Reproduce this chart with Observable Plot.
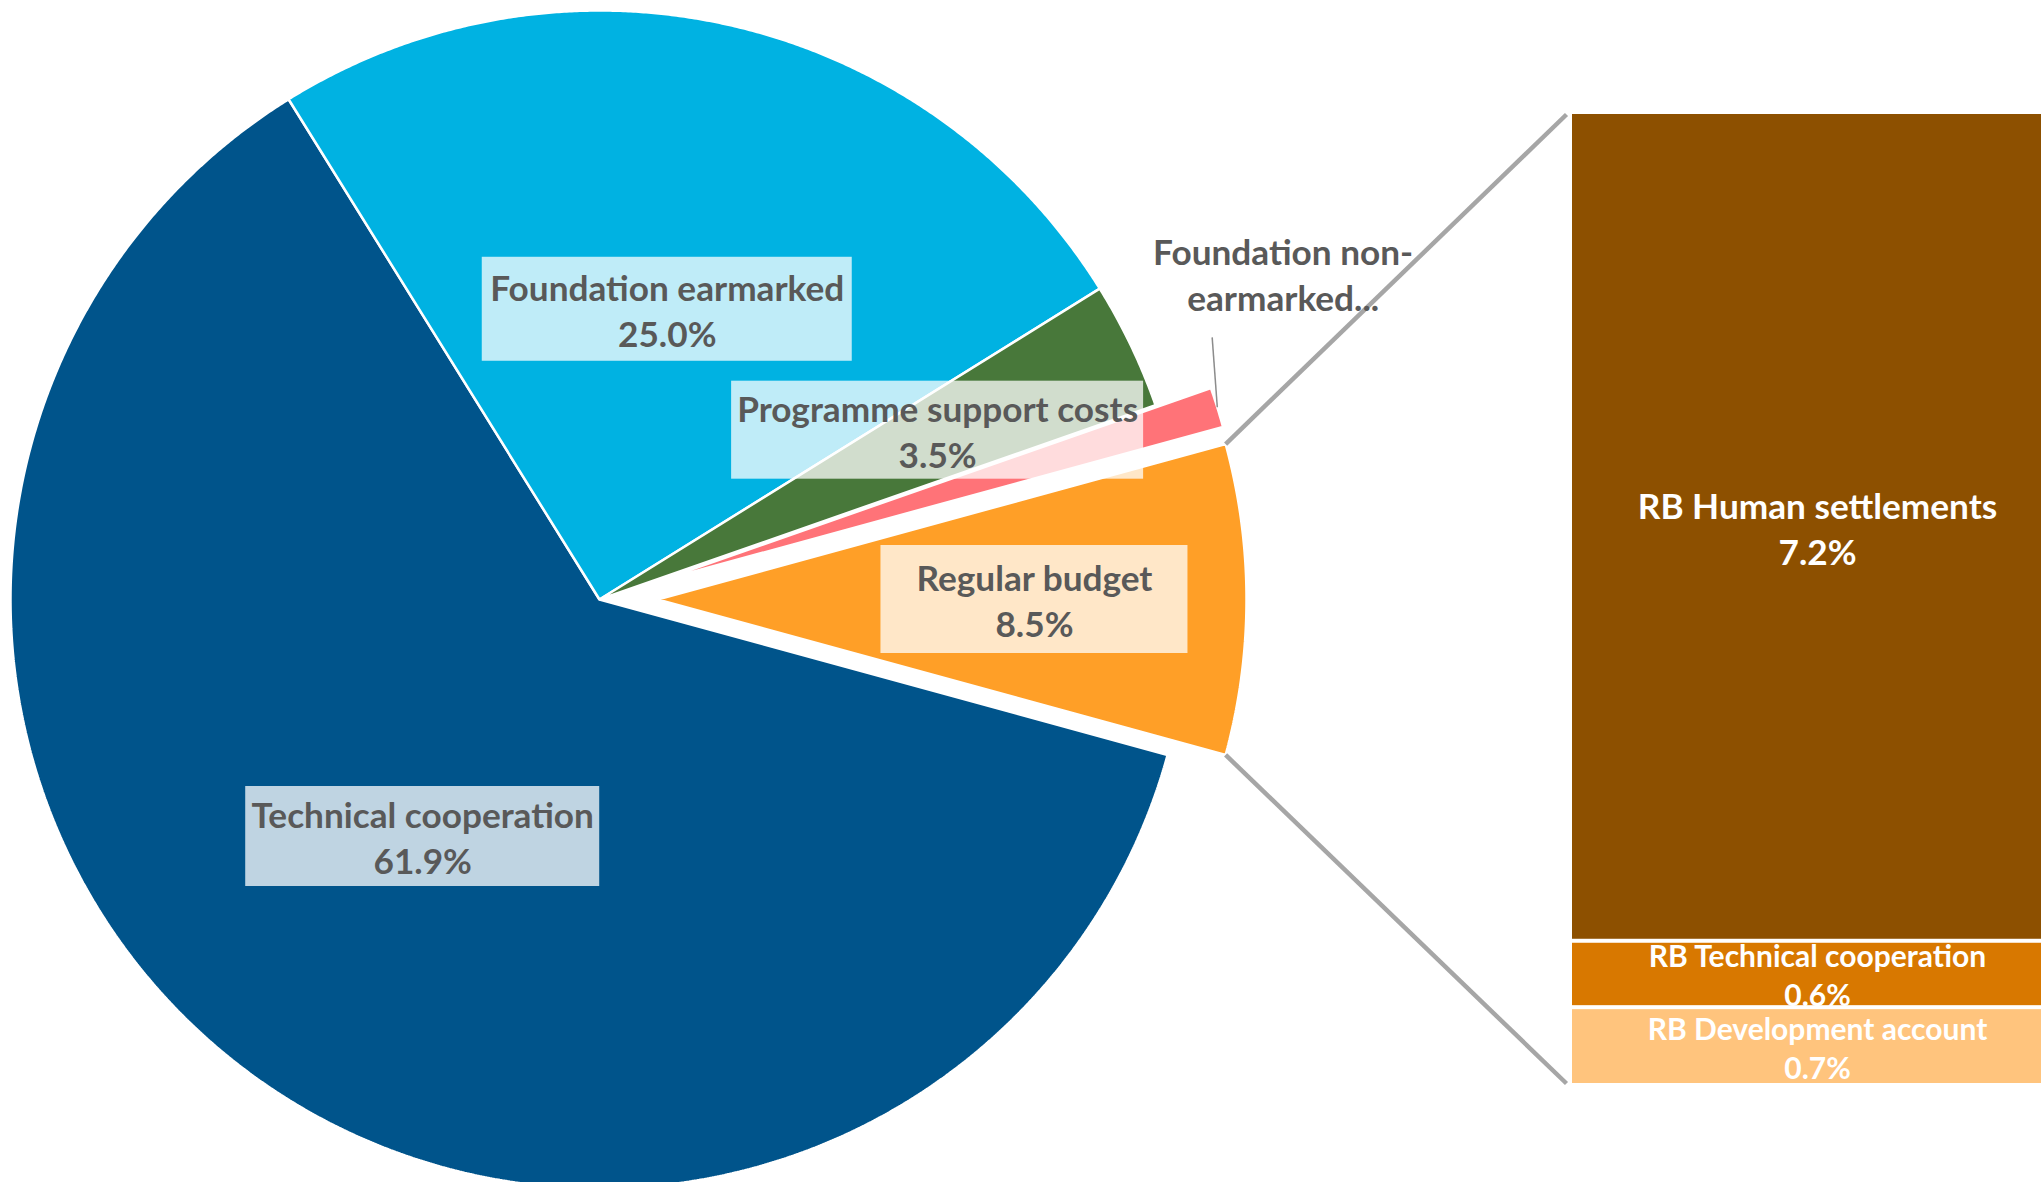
<!DOCTYPE html>
<html>
<head>
<meta charset="utf-8">
<script src="https://cdn.jsdelivr.net/npm/d3@7"></script>
<script src="https://cdn.jsdelivr.net/npm/@observablehq/plot@0.6"></script>
<style>
  html, body { margin: 0; padding: 0; background: #ffffff; overflow: hidden; }
  #chart svg { display: block; }
</style>
</head>
<body>
<div id="chart"></div>
<script>
// ---------------- DATA ----------------
const pieCategories = ["Technical cooperation", "Foundation earmarked", "Programme support costs", "Foundation non-earmarked", "Regular budget"];
const pieValues = [61.9, 25.0, 3.5, 1.1, 8.5];
const pieLabels = ["Technical cooperation", "Foundation earmarked", "Programme support costs", "Foundation non-\nearmarked...", "Regular budget"];
const pieShowValue = [true, true, true, false, true];

const barCategories = ["RB Human settlements", "RB Technical cooperation", "RB Development account"];
const barValues = [7.24, 0.58, 0.68];

// ---------------- STYLE ----------------
const pieColors = ["#00548B", "#00B2E2", "#48783A", "#FF7378", "#FF9F27"];
const barColors = ["#8D5000", "#D87800", "#FFC47D"];
const labelColor = "#595959";
const connectorColor = "#A6A6A6";
const fontFamily = "Lato, 'Open Sans', sans-serif";

// ---------------- LAYOUT (pixels) ----------------
const W = 2041, H = 1182;
const CX = 599, CY = 599, R = 589;          // main pie centre and radius
const explodePx = {"Foundation non-earmarked": 58, "Regular budget": 58};
const pieLabelLayout = {
  "Technical cooperation":   {r: 0.502, w: 354, h: 100},
  "Foundation earmarked":    {r: 0.506, w: 370, h: 104},
  "Programme support costs": {r: 0.642, angle: 63.4, w: 412, h: 98},
  "Regular budget":          {r: 0.640, w: 307, h: 108},
  "Foundation non-earmarked": {r: 1.286, angle: 64.5, w: 0, h: 0, leaderDx: -71, leaderDy: 64}
};
const bigFont = 35.2, bigLine = 46;
const smallFont = 30, smallLine = 39;
const barX1Px = 1572, barX2Px = 2062, barTopPx = 112, barHeightPx = 973;
const barFontSizes = [bigFont, smallFont, smallFont];
const barLineHeights = [bigLine, smallLine, smallLine];

// ---------------- GEOMETRY ----------------
const u = px => px / R;                         // pixels -> pie units
const deg = Math.PI / 180;
const polar = (a, r, ox = 0, oy = 0) => [ox + r * Math.sin(a * deg), oy + r * Math.cos(a * deg)];

const total = d3.sum(pieValues);
const lastIdx = pieValues.length - 1;
// the "other" slice (last) is centred on 3 o'clock, as in a pie-of-bar chart
const startAngle = 90 + pieValues[lastIdx] / total * 180;
const cum = [0, ...d3.cumsum(pieValues)];

const slices = pieCategories.map((name, i) => {
  const a0 = startAngle + cum[i] / total * 360;
  const a1 = startAngle + cum[i + 1] / total * 360;
  const mid = (a0 + a1) / 2;
  const [ox, oy] = polar(mid, u(explodePx[name] || 0));
  return {name, i, a0, a1, mid, ox, oy, value: pieValues[i]};
});

const slicePoints = [];
for (const s of slices) {
  slicePoints.push({name: s.name, x: s.ox, y: s.oy});
  const n = Math.max(2, Math.ceil((s.a1 - s.a0) / 0.25));
  for (let k = 0; k <= n; k++) {
    const a = s.a0 + (s.a1 - s.a0) * k / n;
    const [x, y] = polar(a, 1, s.ox, s.oy);
    slicePoints.push({name: s.name, x, y});
  }
}

// labels
const boxLabels = [], freeLabels = [], leaders = [];
for (const s of slices) {
  const L = pieLabelLayout[s.name];
  const fixed = L.angle !== undefined;
  const [x, y] = fixed ? polar(L.angle, L.r) : polar(s.mid, L.r, s.ox, s.oy);
  const text = pieLabels[s.i] + (pieShowValue[s.i] ? `\n${s.value.toFixed(1)}%` : "");
  const lab = {name: s.name, x, y, text, x1: x - u(L.w / 2), x2: x + u(L.w / 2), y1: y - u(L.h / 2), y2: y + u(L.h / 2)};
  if (L.w > 0) boxLabels.push(lab);
  else {
    freeLabels.push(lab);
    const [ex, ey] = polar(s.mid, 1, s.ox, s.oy);
    leaders.push({x1: x + u(L.leaderDx), y1: y - u(L.leaderDy), x2: ex, y2: ey});
  }
}

// secondary bar
const barTop = (CY - barTopPx) / R;
const perPct = u(barHeightPx) / d3.sum(barValues);
const barCum = [0, ...d3.cumsum(barValues)];
const barX1 = (barX1Px - CX) / R, barX2 = (barX2Px - CX) / R;
const barSegs = barCategories.map((name, i) => ({
  name, value: barValues[i],
  x1: barX1, x2: barX2,
  y2: barTop - barCum[i] * perPct,
  y1: barTop - barCum[i + 1] * perPct,
  x: (barX1 + barX2) / 2,
  y: barTop - (barCum[i] + barValues[i] / 2) * perPct,
  text: `${name}\n${barValues[i].toFixed(1)}%`
}));
const barBottom = barTop - barCum[barCum.length - 1] * perPct;

// connector lines from the exploded "other" slice to the bar
const other = slices[lastIdx];
const [tx, ty] = polar(other.a0, 1, other.ox, other.oy);
const [bx, by] = polar(other.a1, 1, other.ox, other.oy);
const connectors = [
  {x1: tx, y1: ty, x2: barX1 - u(6), y2: barTop - u(2)},
  {x1: bx, y1: by, x2: barX1 - u(6), y2: barBottom + u(2)}
];

// ---------------- PLOT ----------------
const barMarks = [];
barSegs.forEach((seg, i) => {
  barMarks.push(Plot.rect([seg], {x1: "x1", x2: "x2", y1: "y1", y2: "y2", fill: "name", insetTop: 2, insetBottom: 2}));
  barMarks.push(Plot.text([seg], {x: "x", y: "y", text: "text", fill: "white", fontSize: barFontSizes[i], fontWeight: "bold", fontFamily, lineHeight: barLineHeights[i] / barFontSizes[i], textAnchor: "middle"}));
});

const chart = Plot.plot({
  width: W,
  height: H,
  margin: 0,
  x: {domain: [-CX / R, (W - CX) / R], axis: null},
  y: {domain: [(CY - H) / R, CY / R], axis: null},
  color: {domain: [...pieCategories, ...barCategories], range: [...pieColors, ...barColors]},
  style: {fontFamily, background: "white", overflow: "hidden"},
  marks: [
    Plot.line(slicePoints, {x: "x", y: "y", z: "name", fill: "name", stroke: "white", strokeWidth: 2.5, strokeLinejoin: "miter", curve: "linear-closed"}),
    Plot.link(connectors, {x1: "x1", y1: "y1", x2: "x2", y2: "y2", stroke: connectorColor, strokeWidth: 4.5, strokeLinecap: "butt"}),
    Plot.rect(boxLabels, {x1: "x1", x2: "x2", y1: "y1", y2: "y2", fill: "white", fillOpacity: 0.75}),
    Plot.text(boxLabels, {x: "x", y: "y", text: "text", fill: labelColor, fontSize: bigFont, fontWeight: "bold", fontFamily, lineHeight: bigLine / bigFont, textAnchor: "middle"}),
    Plot.link(leaders, {x1: "x1", y1: "y1", x2: "x2", y2: "y2", stroke: "#8C8C8C", strokeWidth: 1.5}),
    Plot.text(freeLabels, {x: "x", y: "y", text: "text", fill: labelColor, fontSize: bigFont, fontWeight: "bold", fontFamily, lineHeight: bigLine / bigFont, textAnchor: "middle"}),
    ...barMarks
  ]
});

document.getElementById("chart").appendChild(chart);
</script>
</body>
</html>
